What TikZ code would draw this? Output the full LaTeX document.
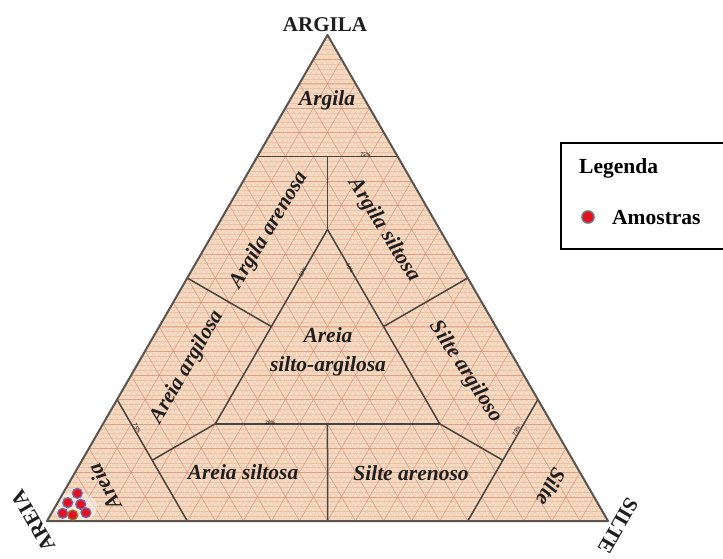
\documentclass[tikz,border=0pt]{standalone}
\usepackage{fontspec}
\setmainfont{Liberation Serif}
\definecolor{fillc}{HTML}{F7DBC2}
\definecolor{finec}{HTML}{E8C3A8}
\definecolor{gridc}{HTML}{D67E6A}
\definecolor{bndc}{HTML}{4A4440}
\definecolor{edgec}{HTML}{5A5550}
\definecolor{txtc}{HTML}{1E1E1E}
\definecolor{dotc}{HTML}{E8101E}
\definecolor{ringc}{HTML}{6C72B0}
\definecolor{ringb}{HTML}{8C7A38}
\definecolor{legring}{HTML}{707070}
\begin{document}
\begin{tikzpicture}[x=1pt,y=-1pt,
  bnd/.style={draw=bndc, line width=1.5pt},
  reg/.style={font=\fontsize{21.5}{29}\selectfont\bfseries\itshape, text=txtc, inner sep=0pt, align=center},
  corner/.style={font=\fontsize{21}{25}\selectfont\bfseries, text=txtc, inner sep=0pt},
  pct/.style={font=\fontsize{5.5}{6}\selectfont\bfseries\itshape, text=txtc, inner sep=0.3pt},
  legtext/.style={font=\fontsize{21.5}{25}\selectfont\bfseries, text=black, inner sep=0pt},
  sample/.style={circle, draw=ringc, line width=1.2pt, fill=dotc, minimum size=10pt, inner sep=0pt},
]
\useasboundingbox (0,0) rectangle (723,559);
\clip (0,0) rectangle (723,559);
\fill[white] (0,0) rectangle (723,559);
\coordinate (S) at (47,521);
\coordinate (T) at (608,521);
\coordinate (C) at (327.5,35);
% background
\fill[fillc] (S) -- (T) -- (C) -- cycle;
% fine grid (1%)
\foreach \i in {1,...,99} {
  \pgfmathsetmacro\a{\i/100}
  \pgfmathsetmacro\b{1-\i/100}
  \draw[finec, line width=0.2pt] (barycentric cs:S=\a,T=\b) -- (barycentric cs:S=\a,C=\b);
  \draw[finec, line width=0.2pt] (barycentric cs:T=\a,S=\b) -- (barycentric cs:T=\a,C=\b);
  \draw[finec, line width=0.2pt] (barycentric cs:C=\a,S=\b) -- (barycentric cs:C=\a,T=\b);
}
% coarse grid (5%)
\foreach \i in {1,...,19} {
  \pgfmathsetmacro\a{\i/20}
  \pgfmathsetmacro\b{1-\i/20}
  \draw[gridc, line width=0.5pt, opacity=0.7] (barycentric cs:S=\a,T=\b) -- (barycentric cs:S=\a,C=\b);
  \draw[gridc, line width=0.5pt, opacity=0.7] (barycentric cs:T=\a,S=\b) -- (barycentric cs:T=\a,C=\b);
  \draw[gridc, line width=0.4pt, opacity=0.5] (barycentric cs:C=\a,S=\b) -- (barycentric cs:C=\a,T=\b);
}
% light patch behind samples
\fill[white, opacity=0.45] (75,507) ellipse [x radius=22pt, y radius=15pt];
% boundary coordinates
\coordinate (c75L) at (barycentric cs:S=0.25,C=0.75);
\coordinate (c75R) at (barycentric cs:T=0.25,C=0.75);
\coordinate (c75M) at (barycentric cs:S=0.125,T=0.125,C=0.75);
\coordinate (Iap) at (barycentric cs:S=0.2,T=0.2,C=0.6);
\coordinate (IL) at (barycentric cs:S=0.6,T=0.2,C=0.2);
\coordinate (IR) at (barycentric cs:S=0.2,T=0.6,C=0.2);
\coordinate (IBM) at (barycentric cs:S=0.4,T=0.4,C=0.2);
\coordinate (BM) at (barycentric cs:S=0.5,T=0.5);
\coordinate (L50) at (barycentric cs:S=0.5,C=0.5);
\coordinate (IL40) at (barycentric cs:S=0.4,T=0.2,C=0.4);
\coordinate (R50) at (barycentric cs:T=0.5,C=0.5);
\coordinate (IR40) at (barycentric cs:S=0.2,T=0.4,C=0.4);
\coordinate (s75a) at (barycentric cs:S=0.75,C=0.25);
\coordinate (s75b) at (barycentric cs:S=0.75,T=0.25);
\coordinate (s75m) at (barycentric cs:S=0.75,T=0.125,C=0.125);
\coordinate (t75a) at (barycentric cs:T=0.75,C=0.25);
\coordinate (t75b) at (barycentric cs:S=0.25,T=0.75);
\coordinate (t75m) at (barycentric cs:S=0.125,T=0.75,C=0.125);
% class boundaries
\draw[bnd] (c75L) -- node[pct, pos=0.77, above=-1.5pt] {75\%} (c75R);
\draw[bnd] (c75M) -- (Iap);
\draw[bnd] (Iap) -- node[pct, pos=0.22, sloped] {50\%} (IL);
\draw[bnd] (Iap) -- node[pct, pos=0.2, sloped] {50\%} (IR);
\draw[bnd] (IL) -- node[pct, pos=0.244, above=-1.5pt] {20\%} (IR);
\draw[bnd] (IBM) -- (BM);
\draw[bnd] (L50) -- (IL40);
\draw[bnd] (R50) -- (IR40);
\draw[bnd] (s75a) -- node[pct, pos=0.25, sloped, above=0pt] {75\%} (s75b);
\draw[bnd] (IL) -- (s75m);
\draw[bnd] (t75a) -- node[pct, pos=0.27, sloped, above=0pt] {75\%} (t75b);
\draw[bnd] (IR) -- (t75m);
% outer triangle
\draw[edgec, line width=2pt, line join=round] (S) -- (T) -- (C) -- cycle;
% region labels
\node[reg] (lArg) at (327,100) {Argila};
\node[reg, rotate=59] (lArgAr) at (269,230) {Argila arenosa};
\node[reg, rotate=-58] (lArgSi) at (384,230) {Argila siltosa};
\node[reg, rotate=60] (lArArg) at (187,367) {Areia argilosa};
\node[reg] (lArSA) at (328,352) {Areia\\silto-argilosa};
\node[reg, rotate=-57] (lSiArg) at (466,372) {Silte argiloso};
\node[reg] (lArSi) at (243,472) {Areia siltosa};
\node[reg] (lSiAr) at (411,473) {Silte arenoso};
\node[reg, rotate=118] (lAr) at (104,487) {Areia};
\node[reg, rotate=-118] (lSi) at (551,487) {Silte};
% corner labels
\node[corner] (kArg) at (325,25) {ARGILA};
\node[corner, rotate=120] (kAr) at (33,521) {AREIA};
\node[corner, rotate=-120] (kSi) at (618,526) {SILTE};
% samples
\node[sample] (p1) at (77.3,493.3) {};
\node[sample] (p2) at (67.7,502.7) {};
\node[sample] (p3) at (80.7,504.3) {};
\node[sample] (p4) at (62.7,513.3) {};
\node[sample] (p6) at (86,512.7) {};
\node[sample, draw=ringb] (p5) at (72.7,515) {};
% legend
\draw[black, line width=1.1pt] (730,143) -- (561,143) -- (561,249) -- (730,249);
\node[legtext, anchor=base west] (legT) at (579,173) {Legenda};
\node[sample, draw=legring, minimum size=12pt, line width=1.6pt] (legDot) at (588,217) {};
\node[legtext, anchor=base west] (legA) at (612,224) {Amostras};
\end{tikzpicture}
\end{document}
